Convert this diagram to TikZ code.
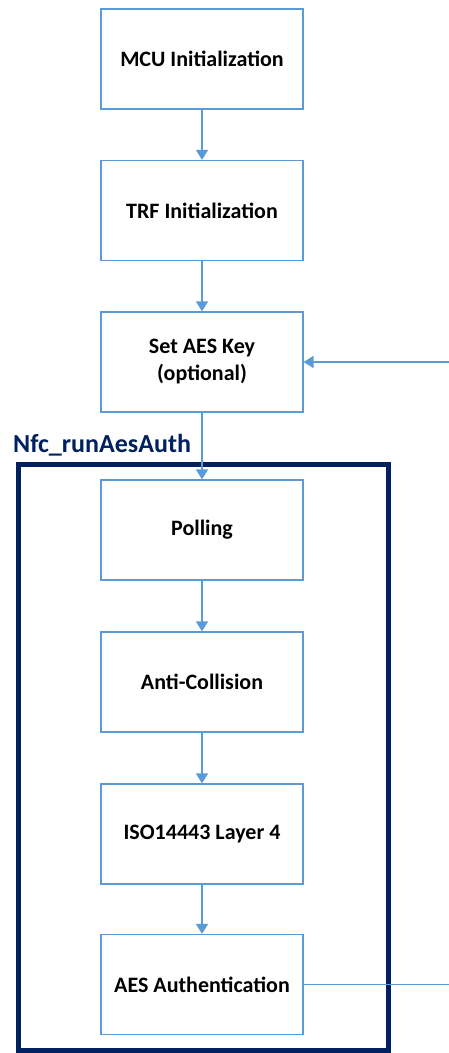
\documentclass[tikz,border=0pt]{standalone}
\usepackage{fontspec}
\setmainfont{Carlito}
\usetikzlibrary{arrows.meta}
\definecolor{boxblue}{HTML}{5B9BD5}
\definecolor{navy}{HTML}{002060}
\begin{document}
\begin{tikzpicture}[x=1pt,y=-1pt,
  stepbox/.style={draw=boxblue,line width=1.2pt,minimum width=202pt,minimum height=100pt,inner sep=0pt,align=center,font=\fontsize{22}{27}\selectfont\bfseries,text=black},
  flow/.style={draw=boxblue,line width=1.5pt,-{Triangle[length=10pt,width=12pt]}},
  feed/.style={draw=boxblue,line width=1.5pt}]
\useasboundingbox (0,0) rectangle (448,1053);
\draw[navy,line width=5pt] (18,464) rectangle (388,1050);
\node[anchor=base west,text=navy,font=\fontsize{26}{30}\selectfont\bfseries,inner sep=0pt] (lbl) at (13,452) {Nfc\_runAesAuth};
\node[stepbox] (mcu) at (202,59) {MCU Initialization};
\node[stepbox] (trf) at (202,210.5) {TRF Initialization};
\node[stepbox] (key) at (202,362) {Set AES Key\\(optional)};
\node[stepbox] (poll) at (202,530) {Polling};
\node[stepbox] (anti) at (202,682) {Anti-Collision};
\node[stepbox] (iso) at (202,834) {ISO14443 Layer 4};
\node[stepbox] (auth) at (202,984.5) {AES Authentication};
\coordinate (c1) at (450,984.5);
\coordinate (c2) at (450,362);
\draw[flow] (mcu) -- (trf);
\draw[flow] (trf) -- (key);
\draw[flow] (key) -- (poll);
\draw[flow] (poll) -- (anti);
\draw[flow] (anti) -- (iso);
\draw[flow] (iso) -- (auth);
\draw[feed] (auth.east) -- (c1) -- (c2);
\draw[flow] (c2) -- (key.east);
\end{tikzpicture}
\end{document}
